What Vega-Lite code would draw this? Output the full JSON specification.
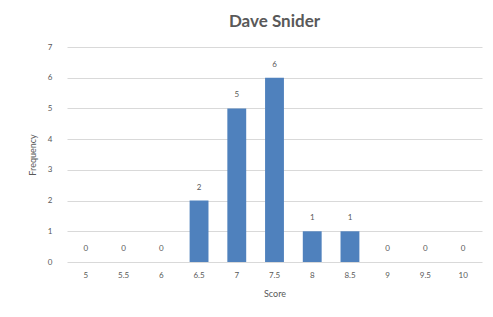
{
  "$schema": "https://vega.github.io/schema/vega-lite/v6.json",
  "autosize": "none",
  "width": 415,
  "height": 215,
  "padding": {"left": 67, "top": 47, "right": 11, "bottom": 55},
  "background": "white",
  "title": {
    "text": "Dave Snider",
    "font": "Lato",
    "fontSize": 17,
    "fontWeight": "bold",
    "color": "#595959",
    "offset": 12,
    "anchor": "middle"
  },
  "data": {
    "values": [
      {"score": "5", "freq": 0},
      {"score": "5.5", "freq": 0},
      {"score": "6", "freq": 0},
      {"score": "6.5", "freq": 2},
      {"score": "7", "freq": 5},
      {"score": "7.5", "freq": 6},
      {"score": "8", "freq": 1},
      {"score": "8.5", "freq": 1},
      {"score": "9", "freq": 0},
      {"score": "9.5", "freq": 0},
      {"score": "10", "freq": 0}
    ]
  },
  "encoding": {
    "x": {
      "field": "score",
      "type": "ordinal",
      "sort": null,
      "title": "Score",
      "scale": {"paddingInner": 0.5, "paddingOuter": 0.25},
      "axis": {
        "labelAngle": 0,
        "ticks": false,
        "domain": false,
        "labelPadding": 9,
        "labelFont": "Lato",
        "labelFontSize": 8,
        "labelColor": "#595959",
        "titleFont": "Lato",
        "titleFontSize": 9,
        "titleFontWeight": "normal",
        "titleColor": "#595959",
        "titlePadding": 10
      }
    },
    "y": {
      "field": "freq",
      "type": "quantitative",
      "title": "Frequency",
      "scale": {"domain": [0, 7]},
      "axis": {
        "values": [0, 1, 2, 3, 4, 5, 6, 7],
        "format": "d",
        "ticks": false,
        "domain": false,
        "gridColor": "#d9d9d9",
        "labelPadding": 15,
        "labelFont": "Lato",
        "labelFontSize": 8,
        "labelColor": "#595959",
        "titleFont": "Lato",
        "titleFontSize": 9,
        "titleFontWeight": "normal",
        "titleColor": "#595959",
        "titlePadding": 10
      }
    }
  },
  "layer": [
    {"mark": {"type": "bar", "color": "#4f81bd"}},
    {
      "mark": {"type": "text", "dy": -13, "font": "Lato", "fontSize": 8, "color": "#595959"},
      "encoding": {"text": {"field": "freq", "type": "quantitative"}}
    }
  ],
  "config": {"view": {"stroke": null}}
}
